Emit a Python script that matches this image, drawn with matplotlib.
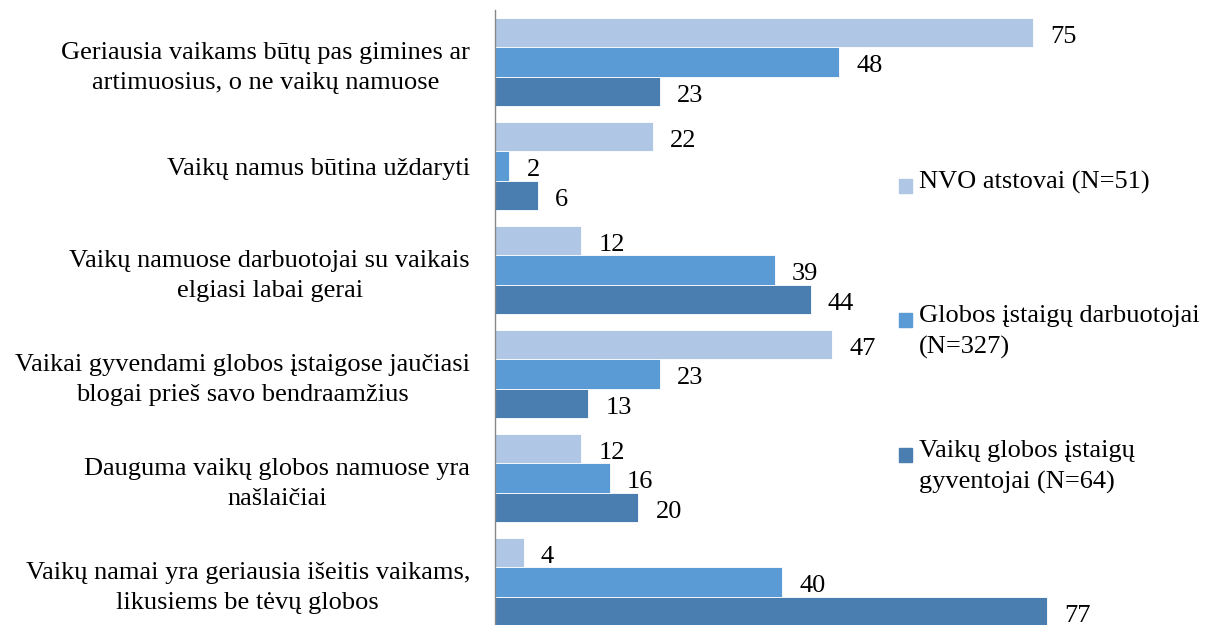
import numpy as np
import matplotlib
matplotlib.use("Agg")
from matplotlib import pyplot as plt
from matplotlib.patches import Rectangle

# data
categories = [
    "Geriausia vaikams būtų pas gimines ar\nartimuosius, o ne vaikų namuose",
    "Vaikų namus būtina uždaryti",
    "Vaikų namuose darbuotojai su vaikais\nelgiasi labai gerai",
    "Vaikai gyvendami globos įstaigose jaučiasi\nblogai prieš savo bendraamžius",
    "Dauguma vaikų globos namuose yra\nnašlaičiai",
    "Vaikų namai yra geriausia išeitis vaikams,\nlikusiems be tėvų globos",
]
series_names = [
    "NVO atstovai (N=51)",
    "Globos įstaigų darbuotojai\n(N=327)",
    "Vaikų globos įstaigų\ngyventojai (N=64)",
]
nvo = [75, 22, 12, 47, 12, 4]
darbuotojai = [48, 2, 39, 23, 16, 40]
gyventojai = [23, 6, 44, 13, 20, 77]
colors = ["#AFC7E5", "#5B9BD5", "#4A7EB0"]

W, H = 1205, 625
plt.rcParams['font.family'] = ['Liberation Serif', 'DejaVu Serif']
fig = plt.figure(figsize=(W / 100, H / 100), dpi=100, facecolor='w')

# axes placed in pixel terms: left at 495, top at 10, group pitch ~104 px
left, top, pitch = 495, 10, 104
px_per_unit = 7.173
ax = fig.add_axes([left / W, 1 - (top + 6 * pitch) / H,
                   (W - left) / W, 6 * pitch / H])
ax.set_xlim(0, (W - left) / px_per_unit)
ax.set_ylim(5.5, -0.5)

y = np.arange(len(categories))
h = 0.284
fs = 19
for i, vals in enumerate([nvo, darbuotojai, gyventojai]):
    pos = y + (i - 1) * h
    ax.barh(pos, vals, height=h, color=colors[i], edgecolor='white', linewidth=0.6)
    for p, v in zip(pos, vals):
        ax.text(v + 2.4, p + 0.04, str(v), va='center', ha='left', fontsize=fs)

ax.set_yticks(y)
ax.set_yticklabels(categories, fontsize=fs)
plt.setp(ax.get_yticklabels(), multialignment='center', linespacing=1.45)
ax.tick_params(axis='y', length=0, pad=18)
ax.set_xticks([])
for s in ['top', 'right', 'bottom']:
    ax.spines[s].set_visible(False)
ax.spines['left'].set_color('#888888')
ax.spines['left'].set_linewidth(1.0)

# legend drawn by hand (square aligned with the first line)
leg_y = [186, 320, 455]
for name, c, ly in zip(series_names, colors, leg_y):
    fig.patches.append(Rectangle((899 / W, 1 - (ly + 7) / H), 13 / W, 14 / H,
                                 transform=fig.transFigure, color=c))
    fig.text(919 / W, 1 - (ly - 15) / H, name, ha='left', va='top',
             fontsize=fs, linespacing=1.5)

fig.savefig("out.png", dpi=100, facecolor='w')
